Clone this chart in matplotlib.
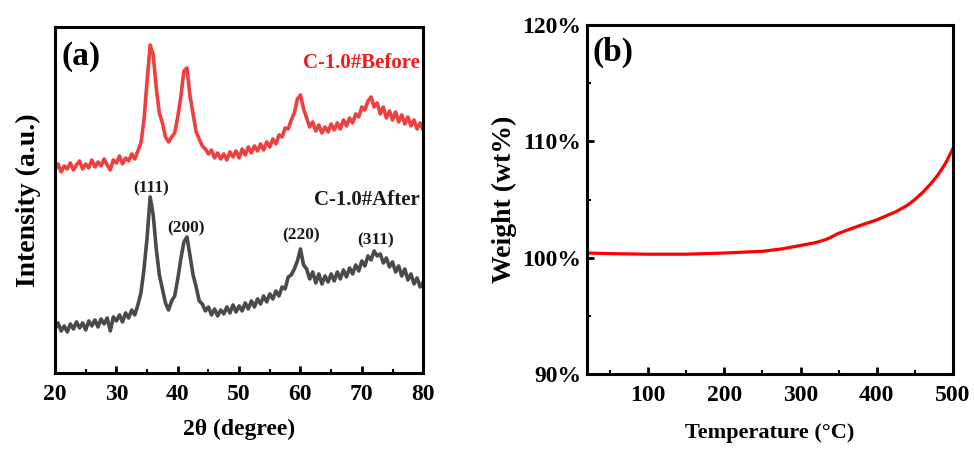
import numpy as np
import matplotlib
matplotlib.use('Agg')
import matplotlib.pyplot as plt
from matplotlib import rcParams
from matplotlib.ticker import MultipleLocator, FixedLocator

rcParams['font.family'] = 'serif'
rcParams['font.serif'] = ['Liberation Serif', 'DejaVu Serif']
rcParams['font.weight'] = 'bold'
rcParams['axes.labelweight'] = 'bold'
rcParams['axes.linewidth'] = 2.2

# %% XRD data (a), 0.5 degree steps
two_theta = np.arange(20, 80.01, 0.5)
xrd_before = [
    203, 209, 201, 207, 204, 210, 203, 208, 212, 204,
    209, 205, 213, 206, 211, 207, 214, 208, 203, 213,
    210, 217, 209, 215, 212, 219, 214, 222, 230, 253,
    292, 328, 318, 285, 260, 250, 236, 231, 236, 240,
    256, 276, 302, 305, 277, 259, 241, 234, 227, 224,
    219, 223, 215, 220, 214, 219, 213, 221, 216, 222,
    215, 224, 218, 226, 220, 227, 222, 229, 223, 231,
    226, 234, 229, 238, 236, 245, 244, 253, 260, 274,
    278, 264, 255, 246, 251, 242, 248, 240, 246, 241,
    249, 243, 250, 244, 253, 247, 255, 250, 259, 256,
    266, 263, 272, 276, 266, 270, 259, 266, 255, 262,
    253, 261, 251, 258, 249, 256, 247, 253, 244, 250,
    243,
]
xrd_after = [
    44, 50, 42, 47, 41, 49, 44, 51, 45, 50,
    43, 52, 47, 53, 46, 54, 49, 55, 42, 56,
    52, 58, 51, 60, 55, 63, 58, 68, 80, 104,
    135, 176, 158, 124, 98, 84, 70, 63, 72, 77,
    94, 114, 131, 136, 117, 98, 86, 72, 69, 62,
    66, 58, 64, 57, 63, 59, 66, 60, 68, 61,
    67, 62, 70, 64, 72, 66, 74, 69, 77, 71,
    79, 74, 82, 77, 86, 84, 96, 98, 104, 112,
    124, 108, 104, 94, 101, 90, 99, 89, 97, 91,
    99, 92, 101, 94, 103, 96, 105, 99, 108, 102,
    112, 107, 117, 113, 122, 117, 119, 110, 115, 106,
    111, 101, 107, 97, 104, 93, 99, 89, 95, 86,
    91,
]
peak_labels = ['(111)', '(200)', '(220)', '(311)']
peak_pos = [35.7, 41.4, 60.1, 72.3]
peak_lab_y = [185, 145, 138, 133]

# %% TG data (b)
temp = [20, 50, 100, 150, 200, 250, 275, 300, 320, 335, 350, 375, 400, 425,
        440, 450, 460, 470, 480, 490, 500]
weight = [100.4, 100.35, 100.3, 100.3, 100.4, 100.55, 100.75, 101.05, 101.3, 101.6,
          102.1, 102.7, 103.25, 103.95, 104.5, 105.0, 105.6, 106.3, 107.1, 108.1, 109.4]

# %%
fig = plt.figure(figsize=(9.74, 4.61), dpi=100)

# (a) XRD
ax1 = fig.add_axes([0.0565, 0.191, 0.378, 0.7505])
ax1.plot(two_theta, xrd_before, color='#ef4040', lw=2.6)
ax1.plot(two_theta, xrd_after, color='#4a4a4a', lw=2.6)
ax1.set_xlim(20, 80)
ax1.set_ylim(0, 346)
ax1.xaxis.set_major_locator(MultipleLocator(10))
ax1.xaxis.set_minor_locator(MultipleLocator(5))
ax1.set_yticks([])
ax1.tick_params(axis='x', which='major', direction='in', length=5, width=2, labelsize=17, pad=8)
ax1.tick_params(axis='x', which='minor', direction='in', length=3, width=1.5)
ax1.set_xlabel('2θ (degree)', fontsize=17, labelpad=10)
ax1.set_ylabel('Intensity (a.u.)', fontsize=20, labelpad=10)
ax1.text(0.017, 0.96, '(a)', transform=ax1.transAxes, fontsize=24, va='top', ha='left')
ax1.text(0.99, 0.895, 'C-1.0#Before', transform=ax1.transAxes, fontsize=15,
         color='#ee1c1c', ha='right', va='center')
ax1.text(0.99, 0.5, 'C-1.0#After', transform=ax1.transAxes, fontsize=15,
         color='#1a1a1a', ha='right', va='center')
for lab, px, py in zip(peak_labels, peak_pos, peak_lab_y):
    ax1.text(px, py, lab, fontsize=12.5, ha='center', va='center', color='#1a1a1a')

# (b) TG
ax2 = fig.add_axes([0.6027, 0.1887, 0.3758, 0.757])
ax2.plot(temp, weight, color='#ff0000', lw=2.3)
ax2.set_xlim(20, 500)
ax2.set_ylim(90, 120)
ax2.xaxis.set_major_locator(FixedLocator([100, 200, 300, 400, 500]))
ax2.xaxis.set_minor_locator(FixedLocator([50, 150, 250, 350, 450]))
ax2.yaxis.set_major_locator(MultipleLocator(10))
ax2.yaxis.set_minor_locator(MultipleLocator(5))
ax2.set_yticklabels(['{:.0f}%'.format(v) for v in ax2.get_yticks()])
ax2.tick_params(which='major', direction='in', length=5, width=2, labelsize=17)
ax2.tick_params(which='minor', direction='in', length=3, width=1.5)
ax2.tick_params(axis='x', pad=8)
ax2.tick_params(axis='y', pad=4)
ax2.set_xlabel('Temperature (\u00b0C)', fontsize=16, labelpad=12)
ax2.set_ylabel('Weight (wt%)', fontsize=20, labelpad=4)
ax2.text(0.015, 0.965, '(b)', transform=ax2.transAxes, fontsize=24, va='top', ha='left')

fig.savefig('out.png', dpi=100)
